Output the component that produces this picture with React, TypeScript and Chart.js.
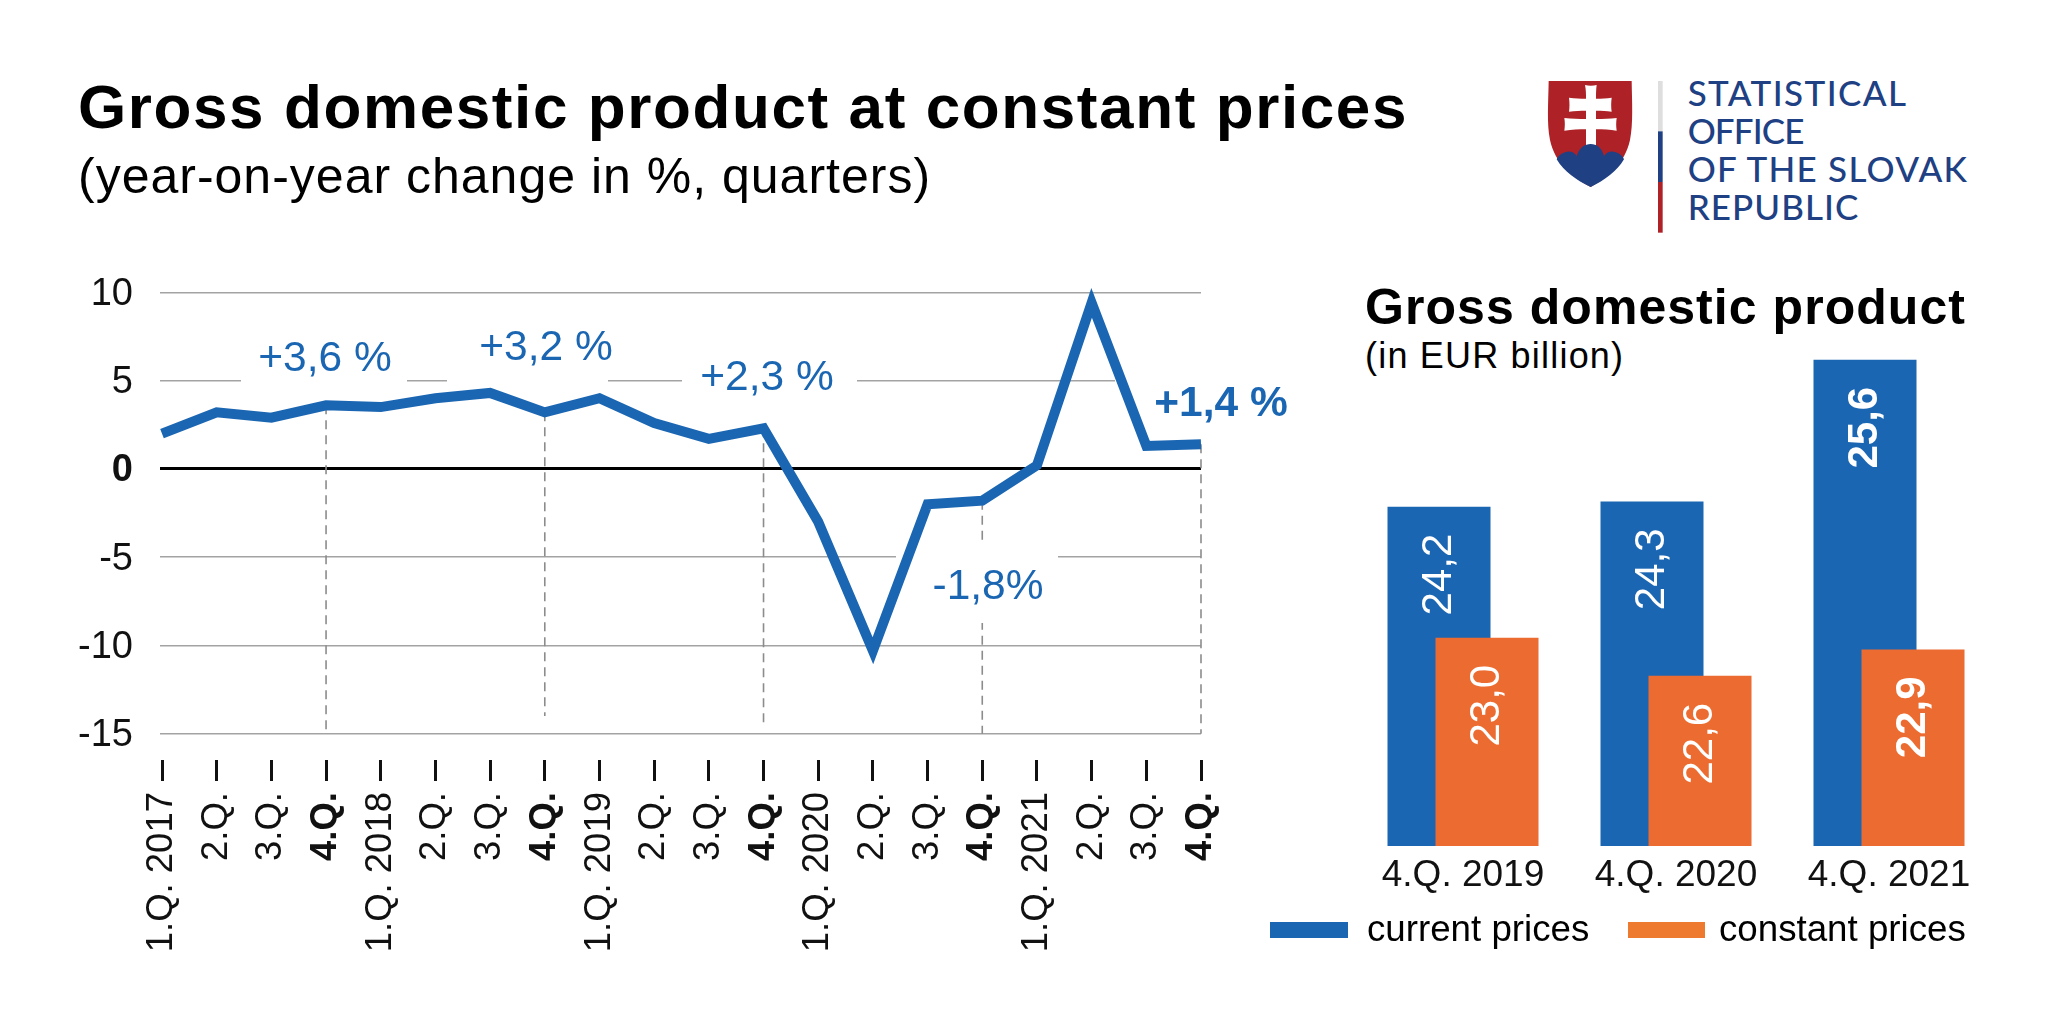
import React, { useEffect, useRef } from "react";
import { Chart, registerables } from "chart.js";

Chart.register(...registerables);

const quarterLabels = [
  "1.Q. 2017", "2.Q.", "3.Q.", "4.Q.", "1.Q. 2018", "2.Q.", "3.Q.", "4.Q.", "1.Q. 2019", "2.Q.",
  "3.Q.", "4.Q.", "1.Q. 2020", "2.Q.", "3.Q.", "4.Q.", "1.Q. 2021", "2.Q.", "3.Q.", "4.Q.",
];
const gdpChange = [2.0, 3.2, 2.9, 3.6, 3.5, 4.0, 4.3, 3.2, 4.0, 2.6, 1.7, 2.3, -3.0, -10.3, -2.0, -1.8, 0.2, 9.4, 1.3, 1.4];
const yTicks = [10, 5, 0, -5, -10, -15];
const dropQuarters = [3, 7, 11, 15, 19];
const dropEnds = [-15, -14, -14.5, -15, -15];

const barCategories = ["4.Q. 2019", "4.Q. 2020", "4.Q. 2021"];
const currentPrices = [24.21, 24.26, 25.6];
const constantPrices = [22.97, 22.61, 22.86];
const currentLabels = ["24,2", "24,3", "25,6"];
const constantLabels = ["23,0", "22,6", "22,9"];
const boldBarLabel = [false, false, true];

const BLUE = "#1b66b2";
const ORANGE = "#ec6b30";
const FONT = "'Liberation Sans', Arial, sans-serif";

type Note = { text: string; cx: number; cy: number; x0: number; x1: number; y0: number; y1: number; bold?: boolean };
const notes: Note[] = [
  { text: "+3,6 %", cx: 325, cy: 359, x0: 241, x1: 407, y0: 335, y1: 395 },
  { text: "+3,2 %", cx: 546, cy: 348, x0: 447, x1: 608, y0: 335, y1: 395 },
  { text: "+2,3 %", cx: 767, cy: 378, x0: 682, x1: 857, y0: 345, y1: 405 },
  { text: "-1,8%", cx: 988, cy: 587, x0: 896, x1: 1058, y0: 545, y1: 623 },
  { text: "+1,4 %", cx: 1221, cy: 404, x0: 1115, x1: 1300, y0: 372, y1: 428, bold: true },
];

const notePlugin = {
  id: "notes",
  afterDatasetDraw(chart: any, args: any) {
    if (args.index !== 1) return;
    const c = chart.ctx;
    c.save();
    c.fillStyle = "#fff";
    notes.forEach((n) => c.fillRect(n.x0, n.y0, n.x1 - n.x0, n.y1 - n.y0));
    c.restore();
  },
  afterDraw(chart: any) {
    const c = chart.ctx;
    c.save();
    c.fillStyle = BLUE;
    c.textAlign = "center";
    c.textBaseline = "middle";
    notes.forEach((n) => {
      c.font = `${n.bold ? "bold " : ""}42.5px ${FONT}`;
      c.fillText(n.text, n.cx, n.cy);
    });
    c.restore();
  },
};

const barPlugin = {
  id: "barOrder",
  beforeDatasetsDraw(chart: any) {
    chart.getDatasetMeta(0).controller.draw();
    chart.getDatasetMeta(1).controller.draw();
    return false;
  },
  afterDraw(chart: any) {
    const c = chart.ctx;
    [currentLabels, constantLabels].forEach((labels, d) => {
      chart.getDatasetMeta(d).data.forEach((bar: any, i: number) => {
        c.save();
        c.translate(bar.x, bar.y + 27);
        c.rotate(-Math.PI / 2);
        c.fillStyle = "#fff";
        c.textAlign = "right";
        c.textBaseline = "middle";
        c.font = `${boldBarLabel[i] ? "bold " : ""}42px ${FONT}`;
        c.fillText(labels[i], 0, 0);
        c.restore();
      });
    });
  },
};

function Logo() {
  return (
    <svg
      width={480}
      height={190}
      viewBox="0 0 1440 570"
      style={{ position: "absolute", left: 1520, top: 60 }}
    >
      <path d="M86 63 H335 C336 130 340 190 330 240 C315 310 265 350 212 381 C155 350 105 310 90 240 C80 190 85 130 86 63 Z" fill="#ae2227" />
      <path d="M195 75 C205 78 220 78 230 75 C228 90 228 102 228 116 C245 116 260 115 275 113 C273 128 273 142 275 155 C260 153 245 152 228 152 V177 C250 177 270 176 290 174 C288 188 288 198 290 212 C270 209 250 208 228 208 V262 H198 V208 C176 208 156 209 133 212 C135 198 135 188 133 174 C156 176 176 177 198 177 V152 C180 152 165 153 147 155 C149 142 149 128 147 113 C165 115 180 116 198 116 C198 102 198 90 195 75 Z" fill="#fff" />
      <path d="M110 298 C118 278 155 262 170 288 C178 262 195 252 212 252 C230 252 245 262 252 288 C268 262 305 278 312 298 C290 335 255 360 212 381 C168 360 132 335 110 298 Z" fill="#204084" />
      <rect x={414} y={63} width={14} height={151} fill="#dedede" />
      <rect x={414} y={214} width={14} height={152} fill="#204084" />
      <rect x={414} y={366} width={14} height={152} fill="#ae2227" />
      <g fill="#204084" fontFamily="Lato, 'Noto Sans', sans-serif" fontSize={105} fontWeight={500}>
        <text x={503} y={138} textLength={655} lengthAdjust="spacing">STATISTICAL</text>
        <text x={503} y={252} textLength={350} lengthAdjust="spacing">OFFICE</text>
        <text x={503} y={366} textLength={838} lengthAdjust="spacing">OF THE SLOVAK</text>
        <text x={503} y={479} textLength={512} lengthAdjust="spacing">REPUBLIC</text>
      </g>
    </svg>
  );
}

function Txt(p: { x: number; cy: number; size: number; bold?: boolean; spacing?: number; children: React.ReactNode }) {
  return (
    <div
      style={{
        position: "absolute",
        left: p.x,
        top: p.cy - p.size,
        height: p.size * 2,
        lineHeight: `${p.size * 2}px`,
        fontFamily: FONT,
        fontSize: p.size,
        fontWeight: p.bold ? 700 : 400,
        letterSpacing: p.spacing ?? 0,
        whiteSpace: "nowrap",
        color: "#000",
      }}
    >
      {p.children}
    </div>
  );
}

export default function App() {
  const lineRef = useRef<HTMLCanvasElement>(null);
  const barRef = useRef<HTMLCanvasElement>(null);

  useEffect(() => {
    const drops = dropQuarters.map((q, i) => ({
      type: "line" as const,
      data: [{ x: q, y: gdpChange[q] }, { x: q, y: dropEnds[i] }],
      borderColor: "#8c8c8c",
      borderWidth: 1.6,
      borderDash: [9, 6],
      pointRadius: 0,
      order: 2 + i,
      clip: false,
    }));
    const line = new Chart(lineRef.current!, {
      type: "line",
      data: {
        datasets: [
          {
            data: gdpChange.map((y, x) => ({ x, y })),
            borderColor: BLUE,
            borderWidth: 10,
            borderJoinStyle: "miter",
            borderCapStyle: "butt",
            pointRadius: 0,
            tension: 0,
            order: 1,
            clip: false,
          },
          ...drops,
        ],
      },
      options: {
        animation: false,
        responsive: false,
        events: [],
        layout: { padding: { left: 0, right: 99, top: 292.3, bottom: 64 } },
        plugins: { legend: { display: false }, tooltip: { enabled: false } },
        scales: {
          x: {
            type: "linear",
            min: -0.0366,
            max: 19,
            afterFit: (s: any) => { s.height = 200; },
            afterBuildTicks: (s: any) => { s.ticks = quarterLabels.map((_, i) => ({ value: i })); },
            border: { display: false },
            grid: { drawOnChartArea: false, drawTicks: true, tickLength: 21, tickWidth: 3, tickColor: "#111" },
            ticks: {
              autoSkip: false,
              maxRotation: 90,
              minRotation: 90,
              padding: 11,
              color: "#111",
              callback: (v: any) => quarterLabels[v],
              font: (ctx: any) => ({
                family: FONT,
                size: 36.5,
                weight: quarterLabels[ctx.index] === "4.Q." ? "bold" : "normal",
              }),
            },
          },
          y: {
            type: "linear",
            min: -16.49,
            max: 10,
            afterFit: (s: any) => {
              s.width = 160;
              if (!s.$shifted) {
                s.$shifted = true;
                const compute = s._computeLabelItems.bind(s);
                s._computeLabelItems = (area: any) =>
                  compute(area).map((it: any) => ({
                    ...it,
                    options: {
                      ...it.options,
                      translation: [it.options.translation[0], it.options.translation[1] + 2],
                    },
                  }));
              }
            },
            afterBuildTicks: (s: any) => { s.ticks = yTicks.map((value) => ({ value })); },
            border: { display: false },
            grid: {
              drawTicks: false,
              color: (ctx: any) => (ctx.tick.value === 0 ? "#000" : "#a3a3a3"),
              lineWidth: (ctx: any) => (ctx.tick.value === 0 ? 3 : 1.4),
            },
            ticks: {
              padding: 27,
              color: "#111",
              callback: (v: any) => String(v),
              font: (ctx: any) => ({
                family: FONT,
                size: 38,
                weight: ctx.tick && ctx.tick.value === 0 ? "bold" : "normal",
              }),
            },
          },
        },
      },
      plugins: [notePlugin],
    } as any);

    const bars = new Chart(barRef.current!, {
      type: "bar",
      data: {
        labels: barCategories,
        datasets: [
          { label: "current prices", data: currentPrices, backgroundColor: BLUE, base: 21 },
          { label: "constant prices", data: constantPrices, backgroundColor: ORANGE, base: 21 },
        ],
      },
      options: {
        animation: false,
        responsive: false,
        events: [],
        categoryPercentage: 0.4507,
        barPercentage: 2.146,
        layout: { padding: { left: 56.5, right: 52.5, top: 317.5, bottom: 118 } },
        plugins: { legend: { display: false }, tooltip: { enabled: false } },
        scales: {
          x: {
            afterFit: (s: any) => { s.height = 60; },
            border: { display: false },
            grid: { display: false },
            ticks: { padding: 0, color: "#111", font: { family: FONT, size: 37 } },
          },
          y: { display: false, min: 21, max: 26 },
        },
      },
      plugins: [barPlugin],
    } as any);

    return () => {
      line.destroy();
      bars.destroy();
    };
  }, []);

  return (
    <div style={{ position: "absolute", left: 0, top: 0, width: 2048, height: 1024, background: "#fff", overflow: "hidden" }}>
      <Txt x={78} cy={107} size={62} bold spacing={1.6}>Gross domestic product at constant prices</Txt>
      <Txt x={78} cy={176} size={50} spacing={1}>(year-on-year change in %, quarters)</Txt>
      <Txt x={1365} cy={307} size={50} bold spacing={1.05}>Gross domestic product</Txt>
      <Txt x={1365} cy={356} size={36} spacing={1.2}>(in EUR billion)</Txt>
      <Logo />
      <canvas ref={lineRef} width={1300} height={1024} style={{ position: "absolute", left: 0, top: 0 }} />
      <canvas ref={barRef} width={748} height={1024} style={{ position: "absolute", left: 1300, top: 0 }} />
      <div style={{ position: "absolute", left: 1270, top: 922, width: 78, height: 16, background: BLUE }} />
      <Txt x={1367} cy={929} size={36.7}>current prices</Txt>
      <div style={{ position: "absolute", left: 1628, top: 922, width: 77, height: 16, background: "#ee7a30" }} />
      <Txt x={1719} cy={929} size={36.7}>constant prices</Txt>
    </div>
  );
}
